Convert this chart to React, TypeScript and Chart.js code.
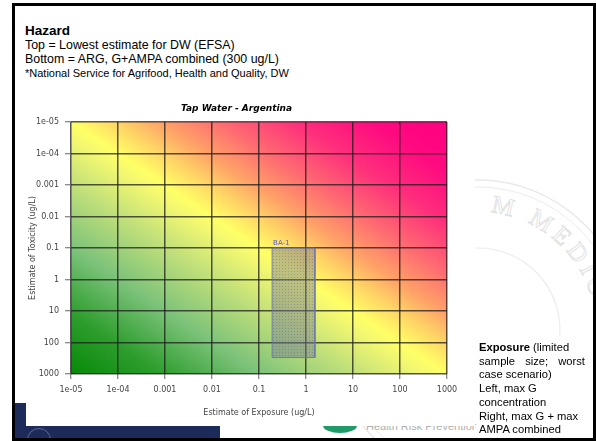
import React, { useEffect, useRef } from "react";
import { Chart, registerables } from "chart.js";

Chart.register(...registerables);

// ---- data ----
const xTickValues = [1e-5, 1e-4, 1e-3, 1e-2, 1e-1, 1, 10, 100, 1000];
const xTickLabels = ["1e-05", "1e-04", "0.001", "0.01", "0.1", "1", "10", "100", "1000"];
const yTickValues = [1e-5, 1e-4, 1e-3, 1e-2, 1e-1, 1, 10, 100, 1000];
const yTickLabels = ["1e-05", "1e-04", "0.001", "0.01", "0.1", "1", "10", "100", "1000"];
const scenarioNames = ["BA-1"];
const exposureLow = [0.19];
const exposureHigh = [1.55];
const toxicityTop = [0.1];
const toxicityBottom = [300];

const chartTitle = "Tap Water - Argentina";
const xTitle = "Estimate of Exposure (ug/L)";
const yTitle = "Estimate of Toxicity (ug/L)";

// ---- styling ----
const gradientStops: [number, string][] = [
  [0.0, "#078a07"],
  [0.12, "#2d9d2d"],
  [0.25, "#7cc27a"],
  [0.38, "#c2e07a"],
  [0.47, "#f4f870"],
  [0.5, "#ffff66"],
  [0.56, "#ffd466"],
  [0.62, "#ffa068"],
  [0.7, "#ff6a72"],
  [0.8, "#ff2e7c"],
  [0.9, "#ff0a80"],
  [1.0, "#ff0080"],
];

const bgPlugin = {
  id: "riskBackground",
  beforeDraw(chart: any) {
    const { ctx, chartArea } = chart;
    if (!chartArea) return;
    const { left, top, right, bottom } = chartArea;
    const w = right - left;
    const h = bottom - top;
    const cx = (left + right) / 2;
    const cy = (top + bottom) / 2;
    const k = (w * h) / (w * w + h * h);
    const dx = k * h;
    const dy = -k * w;
    const g = ctx.createLinearGradient(cx - dx, cy - dy, cx + dx, cy + dy);
    gradientStops.forEach(([t, c]) => g.addColorStop(t, c));
    ctx.save();
    ctx.fillStyle = g;
    ctx.fillRect(left, top, w, h);
    ctx.restore();
  },
};

const labelPlugin = {
  id: "scenarioLabels",
  afterDatasetsDraw(chart: any) {
    const { ctx } = chart;
    const xs = chart.scales.x;
    const ys = chart.scales.y;
    ctx.save();
    ctx.font = '7px "DejaVu Sans"';
    ctx.fillStyle = "#5a5ac8";
    ctx.textAlign = "left";
    ctx.textBaseline = "alphabetic";
    scenarioNames.forEach((n, i) => {
      ctx.fillText(n, xs.getPixelForValue(exposureLow[i]) + 1, ys.getPixelForValue(toxicityTop[i]) - 3.5);
    });
    ctx.restore();
  },
};

const gridColor = "rgba(30,30,30,0.75)";

export default function App() {
  const ref = useRef<HTMLCanvasElement>(null);

  useEffect(() => {
    const canvas = ref.current;
    if (!canvas) return;
    const ctx = canvas.getContext("2d")!;
    const pc = document.createElement("canvas");
    pc.width = 3;
    pc.height = 3;
    const pctx = pc.getContext("2d")!;
    pctx.fillStyle = "rgba(115,120,150,0.45)";
    pctx.fillRect(0, 0, 3, 3);
    pctx.fillStyle = "rgba(70,75,105,0.3)";
    pctx.fillRect(1, 1, 1, 1);
    const pattern = ctx.createPattern(pc, "repeat");

    const datasets = scenarioNames.map((name, i) => ({
      label: name,
      data: [
        { x: exposureLow[i], y: toxicityTop[i] },
        { x: exposureHigh[i], y: toxicityTop[i] },
        { x: exposureHigh[i], y: toxicityBottom[i] },
        { x: exposureLow[i], y: toxicityBottom[i] },
        { x: exposureLow[i], y: toxicityTop[i] },
      ],
      showLine: true,
      fill: "shape",
      backgroundColor: pattern,
      borderColor: "rgba(105,115,175,0.85)",
      borderWidth: 1,
      pointRadius: 0,
      pointHoverRadius: 0,
      tension: 0,
    }));

    const tickFont = { family: "DejaVu Sans", size: 8 };
    const chart = new Chart(canvas, {
      type: "scatter",
      data: { datasets } as any,
      plugins: [bgPlugin, labelPlugin],
      options: {
        responsive: false,
        animation: false,
        devicePixelRatio: 1,
        layout: { padding: { left: 0, right: 28, top: 0, bottom: 0 } },
        plugins: {
          legend: { display: false },
          tooltip: { enabled: false },
          title: {
            display: true,
            text: chartTitle,
            color: "#000",
            font: { family: "DejaVu Sans", size: 9, weight: "bold", style: "italic" },
            padding: { top: 7, bottom: 8.2 },
          },
        },
        scales: {
          x: {
            type: "logarithmic",
            min: 1e-5,
            max: 1000,
            afterBuildTicks: (s: any) => {
              s.ticks = xTickValues.map((v) => ({ value: v }));
            },
            afterFit: (s: any) => {
              s.height = 52;
            },
            ticks: {
              autoSkip: false,
              maxRotation: 0,
              padding: 6,
              color: "#444",
              font: tickFont,
              callback: (_v: any, i: number) => xTickLabels[i],
            },
            grid: { color: gridColor, lineWidth: 1.5, tickLength: 5, tickColor: "#666", tickWidth: 1 },
            border: { display: false },
            title: {
              display: true,
              text: xTitle,
              color: "#444",
              font: { family: "DejaVu Sans", size: 8 },
              padding: { top: 0, bottom: 8.2 },
            },
          },
          y: {
            type: "logarithmic",
            reverse: true,
            min: 1e-5,
            max: 1000,
            afterBuildTicks: (s: any) => {
              s.ticks = yTickValues.map((v) => ({ value: v }));
            },
            afterFit: (s: any) => {
              s.width = 45;
            },
            ticks: {
              autoSkip: false,
              padding: 6,
              color: "#444",
              font: tickFont,
              callback: (_v: any, i: number) => yTickLabels[i],
            },
            grid: { color: gridColor, lineWidth: 1.5, tickLength: 6, tickColor: "#666", tickWidth: 1 },
            border: { display: false },
            title: {
              display: true,
              text: yTitle,
              color: "#444",
              font: { family: "DejaVu Sans", size: 8 },
              padding: { top: 2.2, bottom: 0 },
            },
          },
        },
      } as any,
    });
    return () => chart.destroy();
  }, []);

  const abs = (s: React.CSSProperties): React.CSSProperties => ({ position: "absolute", ...s });
  const sans = '"Liberation Sans", Arial, sans-serif';

  return (
    <div
      style={{
        position: "fixed",
        left: 0,
        top: 0,
        width: 596,
        height: 441,
        background: "#fff",
        overflow: "hidden",
        fontFamily: sans,
        color: "#000",
      }}
    >
      {/* watermark seal */}
      <svg style={abs({ left: 0, top: 0 })} width={596} height={441}>
        <circle cx={478} cy={330} r={150} fill="none" stroke="#e8e8e8" strokeWidth={1.3} />
        <circle cx={478} cy={330} r={143} fill="none" stroke="#ececec" strokeWidth={1} />
        <circle cx={478} cy={330} r={82} fill="none" stroke="#ececec" strokeWidth={1.2} />
        <path id="sealArc" d="M 490.3 212.6 A 118 118 0 0 1 594.2 350.5" fill="none" />
        <text fill="none" stroke="#dedede" strokeWidth={0.8} fontSize={25} fontFamily='"Liberation Serif", serif' letterSpacing={5}>
          <textPath href="#sealArc">M MEDIOL</textPath>
        </text>
      </svg>

      {/* navy footer band */}
      <div style={abs({ left: 14, top: 403, width: 206, height: 35, background: "#1c2b5a" })} />
      <div
        style={abs({
          left: 27,
          top: 428,
          width: 24,
          height: 24,
          borderRadius: "50%",
          border: "1.5px solid #5a6a98",
          boxSizing: "border-box",
        })}
      />

      {/* footer logo remnants */}
      <div style={abs({ left: 323, top: 418, width: 34, height: 15, borderRadius: "50%", background: "#1f9a68" })} />
      <div style={abs({ left: 366, top: 420.5, fontSize: 11, lineHeight: "11px", color: "#b0b0b0", whiteSpace: "nowrap" })}>
        Health Risk Prevention
      </div>

      {/* chart image */}
      <div style={abs({ left: 26, top: 96, width: 449, height: 330, background: "#fff" })}>
        <canvas ref={ref} width={449} height={330} style={{ display: "block" }} />
      </div>

      {/* header */}
      <div style={abs({ left: 25, top: 23.6, fontSize: 13.5, lineHeight: "13.5px", fontWeight: "bold", whiteSpace: "nowrap" })}>
        Hazard
      </div>
      <div style={abs({ left: 25, top: 38.5, fontSize: 12.4, lineHeight: "12.4px", whiteSpace: "nowrap" })}>
        Top = Lowest estimate for DW (EFSA)
      </div>
      <div style={abs({ left: 25, top: 53, fontSize: 12.4, lineHeight: "12.4px", whiteSpace: "nowrap" })}>
        Bottom = ARG, G+AMPA combined (300 ug/L)
      </div>
      <div style={abs({ left: 25, top: 67.7, fontSize: 11, lineHeight: "11px", whiteSpace: "nowrap" })}>
        *National Service for Agrifood, Health and Quality, DW
      </div>

      {/* right text box */}
      <div style={abs({ left: 476, top: 336, width: 120, height: 105, background: "#fff" })} />
      <div style={abs({ left: 479, top: 341, width: 106, fontSize: 11.2, lineHeight: "13.7px" })}>
        <div style={{ whiteSpace: "nowrap" }}>
          <b>Exposure</b> (limited
        </div>
        <div style={{ display: "flex", justifyContent: "space-between" }}>
          <span>sample</span>
          <span>size;</span>
          <span>worst</span>
        </div>
        <div>case scenario)</div>
        <div>Left, max G</div>
        <div>concentration</div>
        <div style={{ whiteSpace: "nowrap" }}>Right, max G + max</div>
        <div>AMPA combined</div>
      </div>

      {/* slide frame */}
      <div
        style={abs({
          left: 12,
          top: 3,
          width: 584,
          height: 438,
          border: "3px solid #000",
          boxSizing: "border-box",
        })}
      />
    </div>
  );
}
